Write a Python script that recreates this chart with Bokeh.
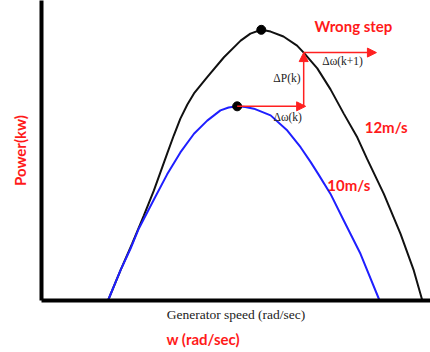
import numpy as np
from bokeh.plotting import figure
from bokeh.models import Range1d, FixedTicker, Label, Arrow, NormalHead, Title
from bokeh.embed import file_html
from bokeh.resources import INLINE

# Power curve at 12 m/s (generator speed, power)
speed_12 = [17.1, 20.3, 23.3, 26.3, 28.9, 32.3, 34.0, 35.7, 37.5, 39.2, 42.6, 46.9, 51.2,
            53.7, 56.5, 58.9, 62.2, 65.7, 67.4, 70.9, 74.3, 77.7, 81.2, 83.7, 88.0, 92.3,
            95.7, 97.9]
power_12 = [0.0, 10.3, 19.5, 29.1, 37.7, 50.3, 56.5, 62.3, 67.1, 70.9, 76.5, 83.3, 89.0,
            91.4, 92.7, 92.1, 90.4, 87.3, 84.9, 79.5, 72.3, 64.0, 55.8, 48.5, 36.5, 22.8,
            10.3, 0.0]

# Power curve at 10 m/s
speed_10 = [17.1, 20.3, 22.9, 25.0, 28.9, 32.3, 35.7, 39.2, 42.6, 46.0, 48.1, 50.3, 52.4,
            54.6, 58.9, 63.2, 66.6, 69.2, 71.2, 74.3, 77.7, 82.0, 86.9]
power_10 = [0.0, 10.3, 17.8, 24.6, 34.6, 43.2, 50.7, 57.1, 61.6, 65.1, 66.1, 66.5, 66.3,
            65.7, 63.4, 58.2, 52.5, 47.4, 43.2, 36.5, 27.4, 16.0, 0.0]

# Perturbation steps
step_speed = [67.4, 86.1]      # speed after step k, after step k+1
step_power = 84.9              # power reached on 12 m/s curve after step k

RED = "#ff2020"
RED_TEXT = "#ff1a1a"

p = figure(width=430, height=352, output_backend="svg", toolbar_location=None,
           x_range=Range1d(0, 100), y_range=Range1d(0, 102.74),
           min_border_left=41, min_border_right=0, min_border_top=0, min_border_bottom=52)
p.background_fill_color = "white"
p.border_fill_color = "white"
p.outline_line_color = None
p.grid.visible = False

for ax in (p.xaxis[0], p.yaxis[0]):
    ax.ticker = FixedTicker(ticks=[])
    ax.major_tick_out = 0
    ax.major_tick_in = 0
    ax.minor_tick_out = 0
    ax.minor_tick_in = 0
    ax.axis_line_width = 4
    ax.axis_line_color = "black"

p.xaxis.axis_label = "Generator speed (rad/sec)"
p.xaxis.axis_label_text_font = "Liberation Serif"
p.xaxis.axis_label_text_font_style = "normal"
p.xaxis.axis_label_text_font_size = "13.5px"
p.xaxis.axis_label_text_color = "#222222"
p.xaxis.axis_label_standoff = 6

p.yaxis.axis_label = "Power(kw)"
p.yaxis.axis_label_text_font = "Lato"
p.yaxis.axis_label_text_font_style = "bold"
p.yaxis.axis_label_text_font_size = "15px"
p.yaxis.axis_label_text_color = RED_TEXT
p.yaxis.axis_label_standoff = 13

p.add_layout(Title(text="w (rad/sec)", align="left", offset=125, standoff=6,
                   text_font="Lato", text_font_style="bold", text_font_size="15px",
                   text_color=RED_TEXT), "below")

p.line(speed_12, power_12, line_color="#111111", line_width=2)
p.line(speed_10, power_10, line_color="#1f1fff", line_width=2)

i12 = int(np.argmax(power_12))
i10 = int(np.argmax(power_10))
p.scatter([speed_12[i12], speed_10[i10]], [power_12[i12], power_10[i10]],
          size=9, color="black")

w0, p0 = speed_10[i10], power_10[i10]
def arrow(xs, ys, xe, ye):
    p.add_layout(Arrow(end=NormalHead(size=9, fill_color=RED, line_color=RED, line_width=1),
                       x_start=xs, y_start=ys, x_end=xe, y_end=ye,
                       line_color=RED, line_width=1.5))
arrow(w0, p0, step_speed[0] + 0.5, p0)
arrow(step_speed[0], p0, step_speed[0], step_power)
arrow(step_speed[0], step_power, step_speed[1], step_power)

def lab(x, y, t, font, size, color, style="normal"):
    p.add_layout(Label(x=x, y=y, text=t, text_font=font, text_font_size=size,
                       text_color=color, text_font_style=style,
                       text_align="center", text_baseline="middle"))

lab(80.2, 93.9, "Wrong step", "Lato", "15px", RED_TEXT, "bold")
lab(88.6, 59.5, "12m/s", "Lato", "15px", RED_TEXT, "bold")
lab(79.0, 39.7, "10m/s", "Lato", "15px", RED_TEXT, "bold")
lab(63.1, 76.3, "ΔP(k)", "Liberation Serif", "11.5px", "#222222")
lab(63.3, 62.9, "Δω(k)", "Liberation Serif", "11.5px", "#222222")
lab(77.4, 82.0, "Δω(k+1)", "Liberation Serif", "11.5px", "#222222")

open("out.html", "w").write(file_html(p, INLINE))
